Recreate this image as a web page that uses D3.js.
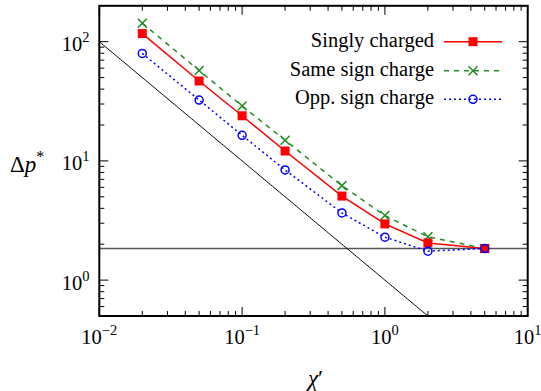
<!DOCTYPE html>
<html><head><meta charset="utf-8">
<script src="https://cdn.jsdelivr.net/npm/d3@7"></script>
</head><body style="margin:0;background:#fff"><svg id="c" width="541" height="391" style="display:block"></svg>
<script>
const chi = [0.02, 0.05, 0.1, 0.2, 0.5, 1, 2, 5];
const singly = [117, 46.8, 23.9, 12.1, 5.07, 2.96, 2.05, 1.84];
const same = [143, 57.4, 28.9, 14.9, 6.2, 3.48, 2.31, 1.84];
const opp = [79.7, 32.4, 16.4, 8.4, 3.66, 2.29, 1.75, 1.84];
const legendLabels = ["Singly charged", "Same sign charge", "Opp. sign charge"];
const xTickExps = [-2, -1, 0, 1];
const yTickExps = [0, 1, 2];
const hLineValue = 1.84;
const xDomain = [0.01, 10];
const yDomain = [0.5, 200];

const FONT = "'Liberation Serif'";
const svg = d3.select("#c");
const L = 99.3, R = 527.7, T = 5.8, B = 316;
const x = d3.scaleLog().domain(xDomain).range([L, R]);
const y = d3.scaleLog().domain(yDomain).range([B, T]);

svg.append("defs").append("clipPath").attr("id","clp")
  .append("rect").attr("x",L).attr("y",T).attr("width",R-L).attr("height",B-T);

function minorTicks(dom){
  const out=[];
  for(let e=Math.floor(Math.log10(dom[0]))-1;e<=Math.ceil(Math.log10(dom[1]));e++){
    for(let m=1;m<10;m++){const v=m*Math.pow(10,e); if(v>=dom[0]*0.999&&v<=dom[1]*1.001) out.push({v,major:m===1});}
  }
  return out;
}
const tg = svg.append("g").attr("stroke","#000").attr("stroke-width",1);
minorTicks(xDomain).forEach(t=>{
  const len=t.major?9:5, px=x(t.v);
  tg.append("line").attr("x1",px).attr("x2",px).attr("y1",B).attr("y2",B-len);
  tg.append("line").attr("x1",px).attr("x2",px).attr("y1",T).attr("y2",T+len);
});
minorTicks(yDomain).forEach(t=>{
  const len=t.major?9:5, py=y(t.v);
  tg.append("line").attr("x1",L).attr("x2",L+len).attr("y1",py).attr("y2",py);
  tg.append("line").attr("x1",R).attr("x2",R-len).attr("y1",py).attr("y2",py);
});

function txt(sel){ return sel.append("text").attr("font-family",FONT).attr("fill","#000"); }

xTickExps.forEach(e=>{
  const t=txt(svg).attr("x",x(Math.pow(10,e))).attr("y",343.5).attr("text-anchor","middle").attr("font-size",20.5);
  t.append("tspan").text("10");
  t.append("tspan").attr("dy",-9).attr("font-size",14.5).text(e<0?"\u2212"+(-e):String(e));
});
yTickExps.forEach(e=>{
  const t=txt(svg).attr("x",89.5).attr("y",y(Math.pow(10,e))+9.5).attr("text-anchor","end").attr("font-size",20.5);
  t.append("tspan").text("10");
  t.append("tspan").attr("dy",-9).attr("font-size",14.5).text(String(e));
});

const xl = txt(svg).attr("x",315.5).attr("y",386).attr("text-anchor","middle").attr("font-size",23);
xl.append("tspan").attr("font-style","italic").text("\u03c7");
xl.append("tspan").text("\u2032");
const yl = txt(svg).attr("x",10).attr("y",171.5).attr("font-size",23);
yl.append("tspan").text("\u0394");
yl.append("tspan").attr("font-style","italic").text("p");
yl.append("tspan").attr("dy",-10).attr("font-size",16).text("*");

const pg = svg.append("g").attr("clip-path","url(#clp)");
pg.append("line").attr("x1",L).attr("x2",R).attr("y1",y(hLineValue)).attr("y2",y(hLineValue))
  .attr("stroke","#555").attr("stroke-width",1.5);
const dg = d3.range(0, 2.1, 0.01).map(k=>Math.pow(10,-2+k*1.5));
pg.append("path").attr("d", d3.line().x(d=>x(d)).y(d=>y(1/d))(dg)).attr("fill","none").attr("stroke","#000").attr("stroke-width",1);

const series = [
  {vals:singly, color:"#ff0000", dash:null, marker:"square"},
  {vals:same, color:"#228b22", dash:"5,5", marker:"cross"},
  {vals:opp, color:"#0000ff", dash:"2,3", marker:"circle"}
];
function drawMarker(g, type, cx, cy, color){
  if(type==="square") g.append("rect").attr("x",cx-4.5).attr("y",cy-4.5).attr("width",9).attr("height",9).attr("fill",color);
  else if(type==="cross") g.append("path").attr("d",`M${cx-4.5},${cy-4.5}L${cx+4.5},${cy+4.5}M${cx-4.5},${cy+4.5}L${cx+4.5},${cy-4.5}`).attr("stroke",color).attr("stroke-width",1.5);
  else g.append("circle").attr("cx",cx).attr("cy",cy).attr("r",4).attr("fill","none").attr("stroke",color).attr("stroke-width",1.5);
}
const line = d3.line().x((d,i)=>x(chi[i])).y(d=>y(d));
series.forEach(s=>{
  pg.append("path").attr("d",line(s.vals)).attr("fill","none").attr("stroke",s.color).attr("stroke-width",1.5)
    .attr("stroke-dasharray",s.dash);
});
[series[1],series[0],series[2]].forEach(s=>{
  s.vals.forEach((v,i)=>drawMarker(pg,s.marker,x(chi[i]),y(v),s.color));
});

const legY=[41.7,70.7,99.3];
series.forEach((s,i)=>{
  txt(svg).attr("x",434).attr("y",legY[i]+5).attr("text-anchor","end").attr("font-size",20.5).text(legendLabels[i]);
  svg.append("line").attr("x1",444).attr("x2",502).attr("y1",legY[i]).attr("y2",legY[i])
    .attr("stroke",s.color).attr("stroke-width",1.5).attr("stroke-dasharray",s.dash);
  drawMarker(svg,s.marker,473,legY[i],s.color);
});

svg.append("rect").attr("x",L).attr("y",T).attr("width",R-L).attr("height",B-T).attr("fill","none").attr("stroke","#000").attr("stroke-width",2);
</script></body></html>
